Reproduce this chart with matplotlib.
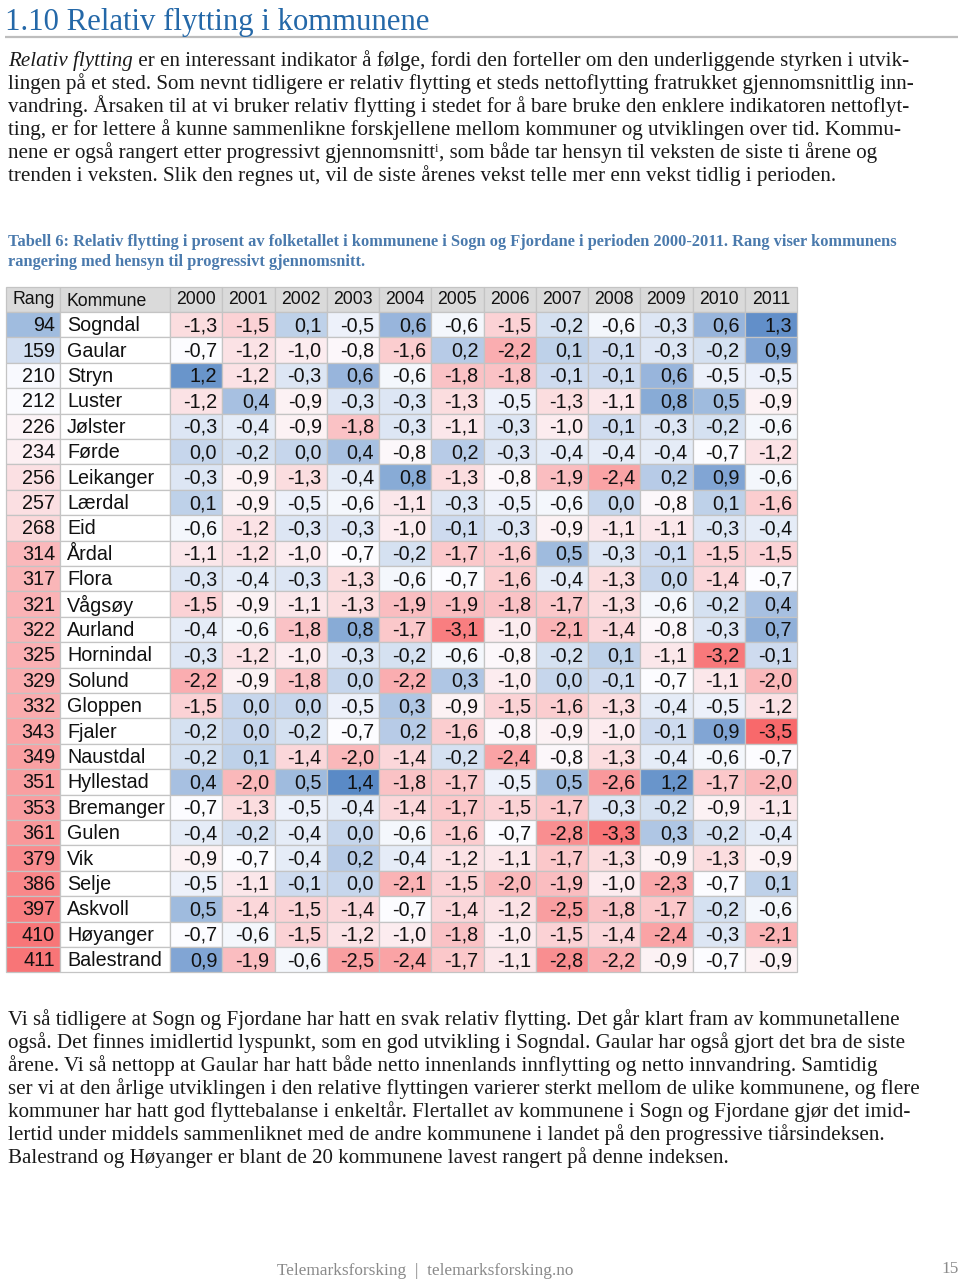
import matplotlib
matplotlib.use("Agg")
import matplotlib.pyplot as plt
from matplotlib.patches import Rectangle
import numpy as np

# ---------------- data ----------------
ranks = [94, 159, 210, 212, 226, 234, 256, 257, 268, 314, 317, 321, 322, 325,
         329, 332, 343, 349, 351, 353, 361, 379, 386, 397, 410, 411]
kommuner = ["Sogndal", "Gaular", "Stryn", "Luster", "Jølster", "Førde", "Leikanger",
            "Lærdal", "Eid", "Årdal", "Flora", "Vågsøy", "Aurland", "Hornindal",
            "Solund", "Gloppen", "Fjaler", "Naustdal", "Hyllestad", "Bremanger",
            "Gulen", "Vik", "Selje", "Askvoll", "Høyanger", "Balestrand"]
years = ["2000", "2001", "2002", "2003", "2004", "2005",
         "2006", "2007", "2008", "2009", "2010", "2011"]

v2000 = [-1.3, -0.7, 1.2, -1.2, -0.3, 0.0, -0.3, 0.1, -0.6, -1.1, -0.3, -1.5, -0.4,
         -0.3, -2.2, -1.5, -0.2, -0.2, 0.4, -0.7, -0.4, -0.9, -0.5, 0.5, -0.7, 0.9]
v2001 = [-1.5, -1.2, -1.2, 0.4, -0.4, -0.2, -0.9, -0.9, -1.2, -1.2, -0.4, -0.9, -0.6,
         -1.2, -0.9, 0.0, 0.0, 0.1, -2.0, -1.3, -0.2, -0.7, -1.1, -1.4, -0.6, -1.9]
v2002 = [0.1, -1.0, -0.3, -0.9, -0.9, 0.0, -1.3, -0.5, -0.3, -1.0, -0.3, -1.1, -1.8,
         -1.0, -1.8, 0.0, -0.2, -1.4, 0.5, -0.5, -0.4, -0.4, -0.1, -1.5, -1.5, -0.6]
v2003 = [-0.5, -0.8, 0.6, -0.3, -1.8, 0.4, -0.4, -0.6, -0.3, -0.7, -1.3, -1.3, 0.8,
         -0.3, 0.0, -0.5, -0.7, -2.0, 1.4, -0.4, 0.0, 0.2, 0.0, -1.4, -1.2, -2.5]
v2004 = [0.6, -1.6, -0.6, -0.3, -0.3, -0.8, 0.8, -1.1, -1.0, -0.2, -0.6, -1.9, -1.7,
         -0.2, -2.2, 0.3, 0.2, -1.4, -1.8, -1.4, -0.6, -0.4, -2.1, -0.7, -1.0, -2.4]
v2005 = [-0.6, 0.2, -1.8, -1.3, -1.1, 0.2, -1.3, -0.3, -0.1, -1.7, -0.7, -1.9, -3.1,
         -0.6, 0.3, -0.9, -1.6, -0.2, -1.7, -1.7, -1.6, -1.2, -1.5, -1.4, -1.8, -1.7]
v2006 = [-1.5, -2.2, -1.8, -0.5, -0.3, -0.3, -0.8, -0.5, -0.3, -1.6, -1.6, -1.8, -1.0,
         -0.8, -1.0, -1.5, -0.8, -2.4, -0.5, -1.5, -0.7, -1.1, -2.0, -1.2, -1.0, -1.1]
v2007 = [-0.2, 0.1, -0.1, -1.3, -1.0, -0.4, -1.9, -0.6, -0.9, 0.5, -0.4, -1.7, -2.1,
         -0.2, 0.0, -1.6, -0.9, -0.8, 0.5, -1.7, -2.8, -1.7, -1.9, -2.5, -1.5, -2.8]
v2008 = [-0.6, -0.1, -0.1, -1.1, -0.1, -0.4, -2.4, 0.0, -1.1, -0.3, -1.3, -1.3, -1.4,
         0.1, -0.1, -1.3, -1.0, -1.3, -2.6, -0.3, -3.3, -1.3, -1.0, -1.8, -1.4, -2.2]
v2009 = [-0.3, -0.3, 0.6, 0.8, -0.3, -0.4, 0.2, -0.8, -1.1, -0.1, 0.0, -0.6, -0.8,
         -1.1, -0.7, -0.4, -0.1, -0.4, 1.2, -0.2, 0.3, -0.9, -2.3, -1.7, -2.4, -0.9]
v2010 = [0.6, -0.2, -0.5, 0.5, -0.2, -0.7, 0.9, 0.1, -0.3, -1.5, -1.4, -0.2, -0.3,
         -3.2, -1.1, -0.5, 0.9, -0.6, -1.7, -0.9, -0.2, -1.3, -0.7, -0.2, -0.3, -0.7]
v2011 = [1.3, 0.9, -0.5, -0.9, -0.6, -1.2, -0.6, -1.6, -0.4, -1.5, -0.7, 0.4, 0.7,
         -0.1, -2.0, -1.2, -3.5, -0.7, -2.0, -1.1, -0.4, -0.9, 0.1, -0.6, -2.1, -0.9]

values_by_year = [v2000, v2001, v2002, v2003, v2004, v2005,
                  v2006, v2007, v2008, v2009, v2010, v2011]

heading = "1.10 Relativ flytting i kommunene"
para1 = [
    [("Relativ flytting", "italic"), (" er en interessant indikator å følge, fordi den forteller om den underliggende styrken i utvik-", "normal")],
    [("lingen på et sted. Som nevnt tidligere er relativ flytting et steds nettoflytting fratrukket gjennomsnittlig inn-", "normal")],
    [("vandring. Årsaken til at vi bruker relativ flytting i stedet for å bare bruke den enklere indikatoren nettoflyt-", "normal")],
    [("ting, er for lettere å kunne sammenlikne forskjellene mellom kommuner og utviklingen over tid. Kommu-", "normal")],
    [("nene er også rangert etter progressivt gjennomsnitt", "normal"), ("i", "sup"), (", som både tar hensyn til veksten de siste ti årene og", "normal")],
    [("trenden i veksten. Slik den regnes ut, vil de siste årenes vekst telle mer enn vekst tidlig i perioden.", "normal")],
]
caption = ["Tabell 6: Relativ flytting i prosent av folketallet i kommunene i Sogn og Fjordane i perioden 2000-2011. Rang viser kommunens",
           "rangering med hensyn til progressivt gjennomsnitt."]
para2 = [
    "Vi så tidligere at Sogn og Fjordane har hatt en svak relativ flytting. Det går klart fram av kommunetallene",
    "også. Det finnes imidlertid lyspunkt, som en god utvikling i Sogndal. Gaular har også gjort det bra de siste",
    "årene. Vi så nettopp at Gaular har hatt både netto innenlands innflytting og netto innvandring. Samtidig",
    "ser vi at den årlige utviklingen i den relative flyttingen varierer sterkt mellom de ulike kommunene, og flere",
    "kommuner har hatt god flyttebalanse i enkeltår. Flertallet av kommunene i Sogn og Fjordane gjør det imid-",
    "lertid under middels sammenliknet med de andre kommunene i landet på den progressive tiårsindeksen.",
    "Balestrand og Høyanger er blant de 20 kommunene lavest rangert på denne indeksen.",
]
footer = "Telemarksforsking  |  telemarksforsking.no"
page_no = "15"

# ---------------- figure ----------------
W, H = 960, 1279
fig = plt.figure(figsize=(W / 100, H / 100), dpi=100)
ax = fig.add_axes([0, 0, 1, 1])
ax.set_xlim(0, W)
ax.set_ylim(H, 0)
ax.axis("off")
renderer = fig.canvas.get_renderer()

SERIF = ["Liberation Serif", "DejaVu Serif"]
SANS = ["Liberation Sans", "DejaVu Sans"]


def twidth(s, **kw):
    t1 = ax.text(0, 0, "|" + s + "|", **kw)
    t2 = ax.text(0, 0, "||", **kw)
    w = t1.get_window_extent(renderer).width - t2.get_window_extent(renderer).width
    t1.remove()
    t2.remove()
    return w


def fit_size(s, target, **kw):
    return 10 * target / twidth(s, fontsize=10, **kw)


# heading
hsize = fit_size(heading, 425, family=SERIF)
ax.text(5, 30, heading, fontsize=hsize, family=SERIF, color="#2468A8",
        va="baseline", ha="left")
ax.plot([5, 958], [37, 37], color="#BDBDBD", lw=1.6, solid_capstyle="butt")

# body paragraphs
bsize = fit_size(para1[1][0][0], 904, family=SERIF)
BODY = "#1A1A1A"


def draw_runs(x, y, runs):
    for s, style in runs:
        if style == "sup":
            kw = dict(fontsize=bsize * 0.6, family=SERIF, color=BODY)
            ax.text(x, y - 6, s, va="baseline", ha="left", **kw)
        else:
            kw = dict(fontsize=bsize, family=SERIF, color=BODY, style=style)
            ax.text(x, y, s, va="baseline", ha="left", **kw)
        x += twidth(s, **kw)


for i, runs in enumerate(para1):
    draw_runs(8, 66 + 22.9 * i, runs)

# caption
csize = fit_size(caption[0], 889, family=SERIF, weight="bold")
for i, line in enumerate(caption):
    ax.text(8, 246 + 20 * i, line, fontsize=csize, family=SERIF, weight="bold",
            color="#4A7AAD", va="baseline", ha="left")

# ---------------- table ----------------
data = np.array(values_by_year).T
vmin, vmax = data.min(), data.max()
vmid = np.percentile(data, 50)

RED = np.array([248, 105, 107]) / 255
WHITE = np.array([252, 252, 255]) / 255
BLUE = np.array([90, 138, 198]) / 255

RANK_LO, RANK_MID, RANK_HI = 1, 215, 429


def three_color(v, lo, mid, hi, c_lo, c_mid, c_hi):
    if v <= mid:
        t = (v - lo) / (mid - lo)
        t = min(max(t, 0), 1)
        return c_lo + (c_mid - c_lo) * t
    t = (v - mid) / (hi - mid)
    t = min(max(t, 0), 1)
    return c_mid + (c_hi - c_mid) * t


x_rank0, x_rank1, x_name1 = 6, 60, 170
x_table_end = 797
ncol = len(years)
ycol_w = (x_table_end - x_name1) / ncol
head_top, head_h = 287, 25
row_h = 25.4
GRID = "#C4C4C4"
HEAD_BG = "#DADADA"
tsize_head = 12.7
tsize = 14.2
TXT = "#111111"

# header
col_edges = [x_rank0, x_rank1, x_name1] + [x_name1 + ycol_w * (j + 1) for j in range(ncol)]
for j in range(len(col_edges) - 1):
    ax.add_patch(Rectangle((col_edges[j], head_top), col_edges[j + 1] - col_edges[j], head_h,
                           facecolor=HEAD_BG, edgecolor=GRID, lw=0.9))
hy = head_top + head_h / 2 + 0.5
ax.text(12, hy, "Rang", fontsize=tsize_head, family=SANS, color=TXT, va="center", ha="left")
ax.text(67, hy + 1, "Kommune", fontsize=tsize_head, family=SANS, color=TXT, va="center", ha="left")
for j, yr in enumerate(years):
    cx = x_name1 + ycol_w * (j + 0.5)
    ax.text(cx, hy, yr, fontsize=tsize_head, family=SANS, color=TXT, va="center", ha="center")

# body rows
for i, (rk, name) in enumerate(zip(ranks, kommuner)):
    y0 = head_top + head_h + i * row_h
    yc = y0 + row_h / 2 + 1
    rc = three_color(rk, RANK_LO, RANK_MID, RANK_HI, BLUE, WHITE, RED)
    ax.add_patch(Rectangle((x_rank0, y0), x_rank1 - x_rank0, row_h,
                           facecolor=rc, edgecolor=GRID, lw=0.9))
    ax.text(x_rank1 - 5, yc, str(rk), fontsize=tsize, family=SANS, color=TXT,
            va="center", ha="right")
    ax.add_patch(Rectangle((x_rank1, y0), x_name1 - x_rank1, row_h,
                           facecolor="white", edgecolor=GRID, lw=0.9))
    ax.text(x_rank1 + 7, yc, name, fontsize=tsize, family=SANS, color=TXT,
            va="center", ha="left")
    for j in range(ncol):
        v = data[i, j]
        c = three_color(v, vmin, vmid, vmax, RED, WHITE, BLUE)
        x0 = x_name1 + ycol_w * j
        ax.add_patch(Rectangle((x0, y0), ycol_w, row_h, facecolor=c,
                               edgecolor=GRID, lw=0.9))
        ax.text(x0 + ycol_w - 5, yc, f"{v:.1f}".replace(".", ","), fontsize=tsize,
                family=SANS, color=TXT, va="center", ha="right")

# paragraph 2
for i, line in enumerate(para2):
    ax.text(8, 1025 + 23 * i, line, fontsize=bsize, family=SERIF, color=BODY,
            va="baseline", ha="left")

# footer
fsize = fit_size(footer, 296, family=SERIF)
ax.text(277, 1275, footer, fontsize=fsize, family=SERIF, color="#8A8A8A",
        va="baseline", ha="left")
ax.text(959, 1273, page_no, fontsize=fsize, family=SERIF, color="#8A8A8A",
        va="baseline", ha="right")

fig.savefig("out.png", dpi=100)
